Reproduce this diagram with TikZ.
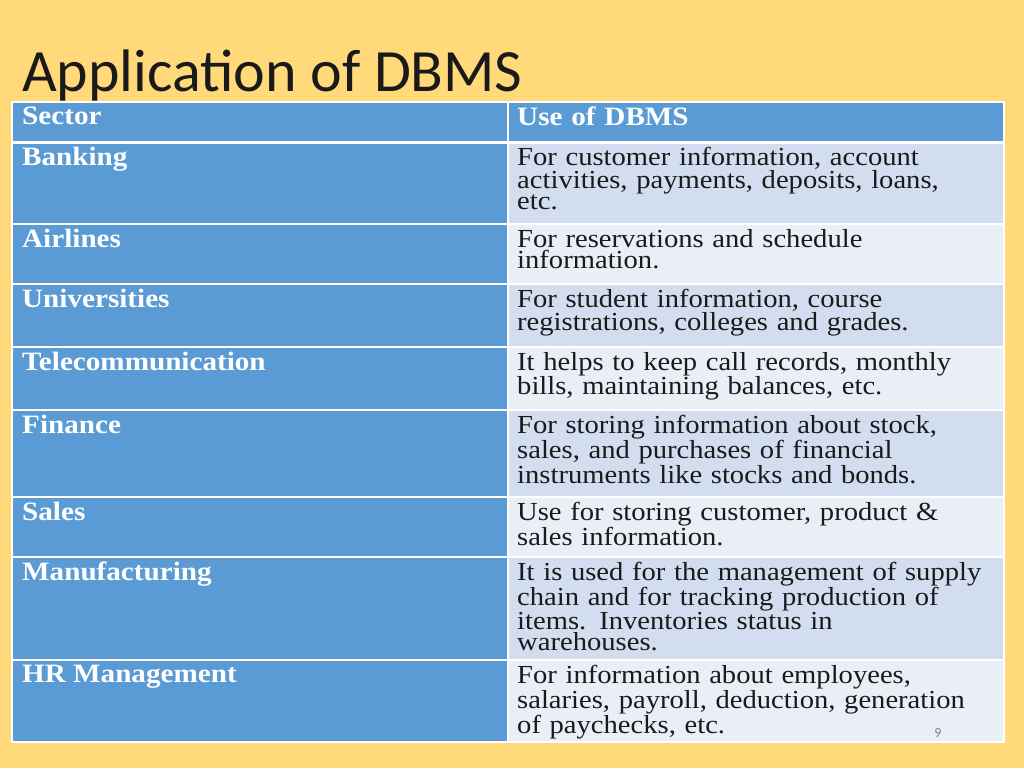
\documentclass[tikz,border=0pt]{standalone}
\usepackage{fontspec}
\setmainfont[FakeStretch=1.1]{Liberation Serif}
\newfontfamily\titlefont{Carlito}
\definecolor{bg}{HTML}{FFD97A}
\definecolor{hdr}{HTML}{5B9BD5}
\definecolor{rowa}{HTML}{D2DEEF}
\definecolor{rowb}{HTML}{EAEFF7}
\definecolor{ink}{HTML}{1A1A1A}
\tikzset{
 cell/.style={draw=white,line width=1.5pt},
 ltxt/.style={anchor=north west,inner sep=0pt,text=white,font=\fontsize{26.5}{21}\selectfont\bfseries,align=left},
 rtxt/.style={anchor=north west,inner sep=0pt,text=ink,font=\fontsize{26}{21}\selectfont,align=left,text width=500pt},
}
\begin{document}
\begin{tikzpicture}[x=1pt,y=-1pt]
\fill[bg] (0,0) rectangle (1024,768);
\useasboundingbox (0,0) rectangle (1024,768);
\node[anchor=west,inner sep=0pt,font=\titlefont\fontsize{60}{60}\selectfont,text=ink] (title) at (22,76) {Application of DBMS};
\foreach \a/\b/\c [count=\i] in {102/142/hdr,142/224/rowa,224/284/rowb,284/347/rowa,347/410/rowb,410/497/rowa,497/557/rowb,557/660/rowa,660/742/rowb}{
  \fill[hdr] (12,\a) rectangle (508,\b);
  \fill[\c] (508,\a) rectangle (1004,\b);
  \draw[cell] (12,\a) rectangle (508,\b);
  \draw[cell] (508,\a) rectangle (1004,\b);
}
\draw[white,line width=3pt] (12,142) -- (1004,142);
\foreach \y/\l [count=\i] in {107/Sector,147/Banking,229/Airlines,289/Universities,352/Telecommunication,415/Finance,502/Sales,562/Manufacturing,665/HR Management}
  \node[ltxt] (l\i) at (22,\y) {\l};
\node[rtxt,text=white,font=\fontsize{26.5}{21}\selectfont\bfseries] (r1) at (517,107) {Use of DBMS};
\node[rtxt] (r2) at (517,147) {For customer information, account\\activities, payments, deposits, loans,\\etc.};
\node[rtxt] (r3) at (517,229) {For reservations and schedule\\information.};
\node[rtxt] (r4) at (517,289) {For student information, course\\registrations, colleges and grades.};
\node[rtxt] (r5) at (517,352) {It helps to keep call records, monthly\\bills, maintaining balances, etc.};
\node[rtxt] (r6) at (517,415) {For storing information about stock,\\sales, and purchases of financial\\instruments like stocks and bonds.};
\node[rtxt] (r7) at (517,502) {Use for storing customer, product \&\\sales information.};
\node[rtxt] (r8) at (517,562) {It is used for the management of supply\\chain and for tracking production of\\items. Inventories status in\\warehouses.};
\node[rtxt] (r9) at (517,665) {For information about employees,\\salaries, payroll, deduction, generation\\of paychecks, etc.};
\node[font=\titlefont\fontsize{14}{14}\selectfont,text=gray] (pg) at (938,733) {9};
\end{tikzpicture}
\end{document}
